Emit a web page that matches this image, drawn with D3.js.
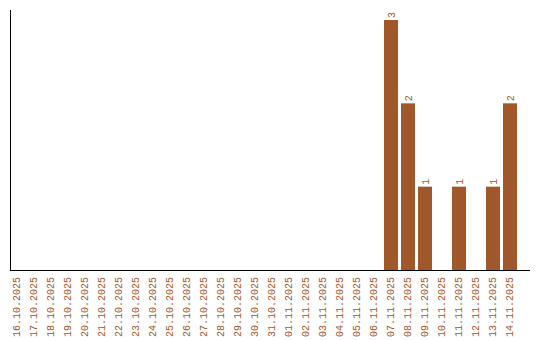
<!DOCTYPE html>
<html>
<head>
<meta charset="utf-8">
<style>
  body { margin: 0; background: #fff; }
  text { font-family: "Liberation Mono", "DejaVu Sans Mono", monospace; }
</style>
</head>
<body>
<svg width="540" height="340"></svg>
<script src="https://cdnjs.cloudflare.com/ajax/libs/d3/7.8.5/d3.min.js"></script>
<script>
// dates shown on the x axis
const dates = ["16.10.2025", "17.10.2025", "18.10.2025", "19.10.2025", "20.10.2025",
  "21.10.2025", "22.10.2025", "23.10.2025", "24.10.2025", "25.10.2025",
  "26.10.2025", "27.10.2025", "28.10.2025", "29.10.2025", "30.10.2025",
  "31.10.2025", "01.11.2025", "02.11.2025", "03.11.2025", "04.11.2025",
  "05.11.2025", "06.11.2025", "07.11.2025", "08.11.2025", "09.11.2025",
  "10.11.2025", "11.11.2025", "12.11.2025", "13.11.2025", "14.11.2025"];
// count per day
const counts = [0, 0, 0, 0, 0, 0, 0, 0, 0, 0,
  0, 0, 0, 0, 0, 0, 0, 0, 0, 0,
  0, 0, 3, 2, 1, 0, 1, 0, 1, 2];

const color = "#a0572a";
const svg = d3.select("svg");
const m = { left: 10, right: 530, top: 10, bottom: 270 };
const step = 17, pad = 3 / 17;

const x = d3.scaleBand()
  .domain(dates)
  .range([m.left, m.left + step * (dates.length - pad)])
  .paddingInner(pad)
  .paddingOuter(0);

const y = d3.scaleLinear()
  .domain([0, 3])
  .range([m.bottom, 20]);

const data = dates.map((d, i) => ({ date: d, n: counts[i] }));

// bars
svg.append("g").selectAll("rect")
  .data(data.filter(d => d.n > 0))
  .join("rect")
  .attr("x", d => x(d.date))
  .attr("y", d => y(d.n))
  .attr("width", x.bandwidth())
  .attr("height", d => m.bottom - y(d.n))
  .attr("fill", color);

// value labels
svg.append("g").selectAll("text")
  .data(data.filter(d => d.n > 0))
  .join("text")
  .attr("transform", d => "translate(" + (x(d.date) + x.bandwidth() / 2 + 3.5) + "," + (y(d.n) - 2) + ") rotate(-90)")
  .attr("font-size", "10px")
  .attr("fill", color)
  .text(d => d.n);

// x axis labels
const xAxis = svg.append("g")
  .attr("transform", "translate(0," + m.bottom + ")")
  .call(d3.axisBottom(x).tickSize(0).tickPadding(0));
xAxis.select(".domain").remove();
xAxis.attr("font-family", null);
xAxis.selectAll("text")
  .attr("font-size", "10px")
  .attr("fill", color)
  .attr("text-anchor", "end")
  .attr("dy", "0.32em")
  .attr("transform", "translate(0,7) rotate(-90)")
  .attr("y", 0)
  .attr("x", 0);

// axis lines
svg.append("line")
  .attr("x1", m.left + 0.5).attr("x2", m.left + 0.5)
  .attr("y1", m.top).attr("y2", m.bottom + 0.5)
  .attr("stroke", "#000");
svg.append("line")
  .attr("x1", m.left).attr("x2", m.right)
  .attr("y1", m.bottom + 0.5).attr("y2", m.bottom + 0.5)
  .attr("stroke", "#000");
</script>
</body>
</html>
